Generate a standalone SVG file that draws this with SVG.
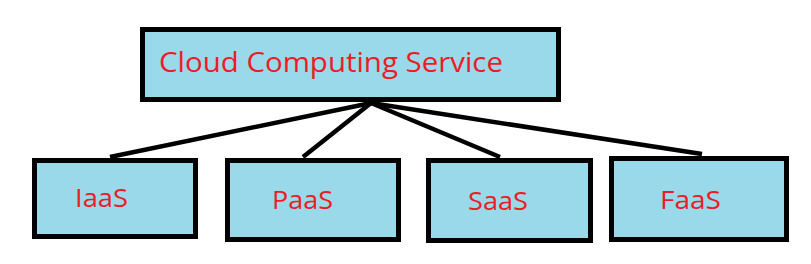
<svg xmlns="http://www.w3.org/2000/svg" width="811" height="264" viewBox="0 0 811 264">
<style>
.box{fill:#99d9ea;stroke:#000;stroke-width:5}
.lbl{fill:#ed1c24;font-family:"Open Sans","Noto Sans",sans-serif}
.conn{stroke:#000;stroke-width:4.5;fill:none}
</style>
<rect width="811" height="264" fill="#fff"/>
<g id="connectors">
<line class="conn" x1="371" y1="103" x2="110" y2="157"/>
<line class="conn" x1="371" y1="103" x2="303" y2="157"/>
<line class="conn" x1="371" y1="103" x2="500" y2="157"/>
<line class="conn" x1="371" y1="103" x2="702" y2="154"/>
</g>
<g id="cloud">
<rect class="box" x="142.5" y="29.5" width="416" height="70"/>
<text class="lbl" x="159" y="72" font-size="28" textLength="344" lengthAdjust="spacingAndGlyphs">Cloud Computing Service</text>
</g>
<g id="iaas">
<rect class="box" x="34.5" y="160.5" width="161" height="76"/>
<text class="lbl" x="75" y="207" font-size="25" textLength="53" lengthAdjust="spacingAndGlyphs">IaaS</text>
</g>
<g id="paas">
<rect class="box" x="227.5" y="160.5" width="171" height="79"/>
<text class="lbl" x="272" y="209" font-size="25" textLength="61" lengthAdjust="spacingAndGlyphs">PaaS</text>
</g>
<g id="saas">
<rect class="box" x="428.5" y="160.5" width="162" height="80"/>
<text class="lbl" x="468" y="210" font-size="25" textLength="60" lengthAdjust="spacingAndGlyphs">SaaS</text>
</g>
<g id="faas">
<rect class="box" x="611.5" y="158.5" width="175" height="81"/>
<text class="lbl" x="660" y="209" font-size="25" textLength="61" lengthAdjust="spacingAndGlyphs">FaaS</text>
</g>
</svg>
